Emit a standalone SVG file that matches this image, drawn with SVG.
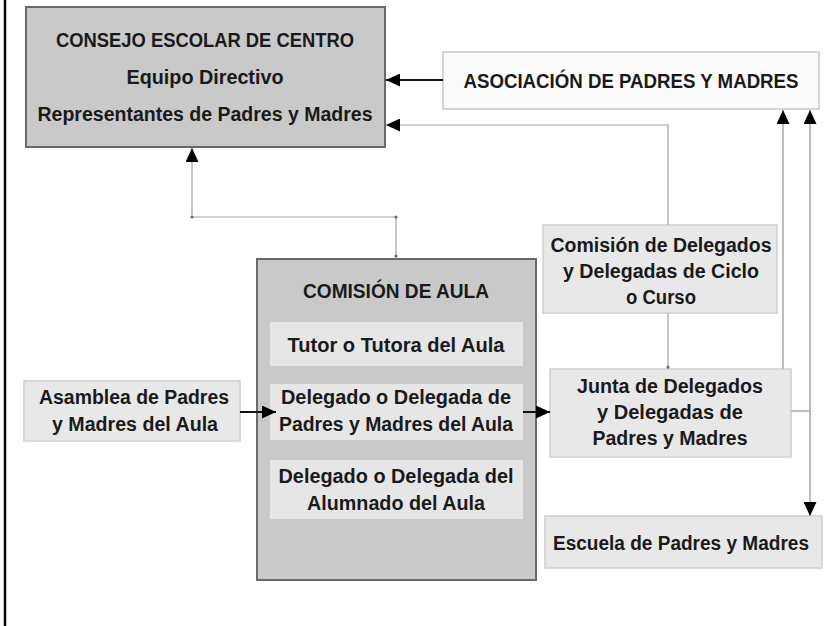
<svg xmlns="http://www.w3.org/2000/svg" width="825" height="626" viewBox="0 0 825 626">
<style>
.t{font-family:"Liberation Sans",Arial,sans-serif;font-weight:bold;font-size:20px;fill:#1a1a1a;text-anchor:middle}
.dark{fill:#c9c9c9;stroke:#6a6a6a;stroke-width:2}
.light{fill:#e8e8e8;stroke:#cfcfcf;stroke-width:1.5}
.inner{fill:#e6e6e6;stroke:none}
.white{fill:#fbfbfb;stroke:#c8c8c8;stroke-width:1.5}
.thin{fill:none;stroke:#a0a0a0;stroke-width:1.2}
.lgray{fill:none;stroke:#bdbdbd;stroke-width:2}
.bold{fill:none;stroke:#111;stroke-width:2}
</style>
<defs>
<marker id="ah" viewBox="0 0 14 13" refX="14" refY="6.5" markerWidth="14" markerHeight="13" orient="auto" markerUnits="userSpaceOnUse"><path d="M0,0 L14,6.5 L0,13 Z" fill="#000"/></marker>
</defs>
<rect width="825" height="626" fill="#fff"/>
<line x1="5" y1="0" x2="5" y2="626" stroke="#000" stroke-width="2.5"/>

<g id="consejo">
<rect class="dark" x="26" y="7" width="359" height="140"/>
<text class="t" x="205" y="47" textLength="298" lengthAdjust="spacingAndGlyphs">CONSEJO ESCOLAR DE CENTRO</text>
<text class="t" x="205" y="84" textLength="157" lengthAdjust="spacingAndGlyphs">Equipo Directivo</text>
<text class="t" x="205" y="121" textLength="335" lengthAdjust="spacingAndGlyphs">Representantes de Padres y Madres</text>
</g>

<g id="asociacion">
<rect class="white" x="443" y="52" width="376" height="57"/>
<text class="t" x="631" y="88" textLength="335" lengthAdjust="spacingAndGlyphs">ASOCIACIÓN DE PADRES Y MADRES</text>
</g>

<g id="comision-delegados">
<rect class="light" x="543" y="225" width="234" height="88"/>
<text class="t" x="661" y="252" textLength="221" lengthAdjust="spacingAndGlyphs">Comisión de Delegados</text>
<text class="t" x="661" y="278" textLength="196" lengthAdjust="spacingAndGlyphs">y Delegadas de Ciclo</text>
<text class="t" x="661" y="304" textLength="70" lengthAdjust="spacingAndGlyphs">o Curso</text>
</g>

<g id="comision-aula">
<rect class="dark" x="257" y="259" width="279" height="321"/>
<text class="t" x="396" y="298" textLength="186" lengthAdjust="spacingAndGlyphs">COMISIÓN DE AULA</text>
</g>

<g id="tutor">
<rect class="inner" x="270" y="322" width="253" height="44"/>
<text class="t" x="396" y="352" textLength="217" lengthAdjust="spacingAndGlyphs">Tutor o Tutora del Aula</text>
</g>

<g id="delegado-padres">
<rect class="inner" x="270" y="384" width="253" height="56"/>
<text class="t" x="396" y="404" textLength="230" lengthAdjust="spacingAndGlyphs">Delegado o Delegada de</text>
<text class="t" x="396" y="431" textLength="234" lengthAdjust="spacingAndGlyphs">Padres y Madres del Aula</text>
</g>

<g id="delegado-alumnado">
<rect class="inner" x="270" y="460" width="253" height="59"/>
<text class="t" x="396" y="483" textLength="235" lengthAdjust="spacingAndGlyphs">Delegado o Delegada del</text>
<text class="t" x="396" y="510" textLength="178" lengthAdjust="spacingAndGlyphs">Alumnado del Aula</text>
</g>

<g id="asamblea">
<rect class="light" x="24" y="381" width="216" height="60"/>
<text class="t" x="134" y="404" textLength="190" lengthAdjust="spacingAndGlyphs">Asamblea de Padres</text>
<text class="t" x="135" y="431" textLength="166" lengthAdjust="spacingAndGlyphs">y Madres del Aula</text>
</g>

<g id="junta">
<rect class="light" x="550" y="369" width="241" height="88"/>
<text class="t" x="670" y="393" textLength="186" lengthAdjust="spacingAndGlyphs">Junta de Delegados</text>
<text class="t" x="670" y="419" textLength="146" lengthAdjust="spacingAndGlyphs">y Delegadas de</text>
<text class="t" x="670" y="445" textLength="155" lengthAdjust="spacingAndGlyphs">Padres y Madres</text>
</g>

<g id="escuela">
<rect class="light" x="545" y="516" width="277" height="52"/>
<text class="t" x="681" y="550" textLength="256" lengthAdjust="spacingAndGlyphs">Escuela de Padres y Madres</text>
</g>

<g id="connectors">
<line class="bold" x1="443" y1="80" x2="386" y2="80" marker-end="url(#ah)"/>
<path class="thin" d="M668,225 V125 H386" marker-end="url(#ah)"/>
<path class="thin" d="M396,259 V217 H192 V148" marker-end="url(#ah)"/>
<circle cx="396" cy="217" r="1.5" fill="#666"/>
<circle cx="192" cy="217" r="1.5" fill="#666"/>
<circle cx="396" cy="256" r="1.5" fill="#666"/>
<line class="bold" x1="240" y1="412" x2="276" y2="412" marker-end="url(#ah)"/>
<line class="bold" x1="523" y1="412" x2="550" y2="412" marker-end="url(#ah)"/>
<line class="thin" x1="668" y1="313" x2="668" y2="369"/>
<circle cx="668" cy="367" r="1.5" fill="#666"/>
<line class="lgray" x1="783" y1="369" x2="783" y2="110" marker-end="url(#ah)"/>
<line class="lgray" x1="791" y1="411" x2="810" y2="411"/>
<path class="lgray" d="M810,411 V110" marker-end="url(#ah)"/>
<path class="lgray" d="M810,411 V516" marker-end="url(#ah)"/>
</g>
</svg>
